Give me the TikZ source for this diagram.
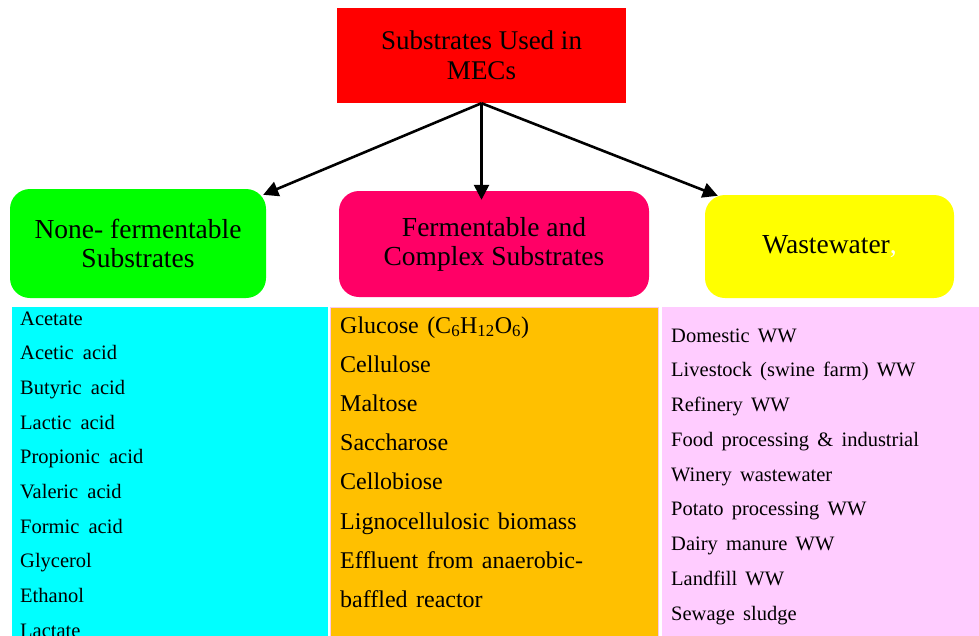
\documentclass[tikz,border=0pt]{standalone}
\usepackage{fontspec}
\setmainfont{Liberation Serif}
\newfontfamily\timesfont{Liberation Serif}
\usetikzlibrary{arrows.meta,calc}

\definecolor{headred}{HTML}{FF0000}
\definecolor{boxgreen}{HTML}{00FF00}
\definecolor{boxpink}{HTML}{FF0066}
\definecolor{boxyellow}{HTML}{FFFF00}
\definecolor{listcyan}{HTML}{00FFFF}
\definecolor{listorange}{HTML}{FFC000}
\definecolor{listpink}{HTML}{FFCCFF}
\definecolor{edgepink}{HTML}{F8C8F0}

\tikzset{
  headbox/.style={draw=none, fill=headred, align=center, inner sep=0pt,
    font=\timesfont\fontsize{27}{30}\selectfont},
  catbox/.style={draw=none, rounded corners=20pt, align=center, inner sep=0pt,
    font=\timesfont\fontsize{27.5}{29}\selectfont},
  panel/.style={draw=none, anchor=north west, inner sep=0pt},
  listitem/.style 2 args={anchor=base west, inner sep=0pt,
    font=\timesfont\fontsize{#1}{#1}\selectfont,
    execute at begin node={\spaceskip=#2em\relax}},
  cyanitem/.style={listitem={20.5}{0.45}},
  orangeitem/.style={listitem={24}{0.35}},
  pinkitem/.style={listitem={20.5}{0.4}},
  link/.style={line width=2.6pt, -{Triangle[length=15pt,width=15pt]}},
}

\begin{document}
\begin{tikzpicture}[x=1pt,y=-1pt]
\useasboundingbox (0,0) rectangle (979,635);
\clip (0,0) rectangle (979,635);

% title
\node[headbox, minimum width=289pt, minimum height=95pt] (top) at (481.5,55.5)
  {Substrates Used in\\MECs};

% three categories
\node[catbox, fill=boxgreen, minimum width=256pt, minimum height=109pt] (green) at (138,243.5)
  {None- fermentable\\Substrates};
\node[catbox, fill=boxpink, minimum width=310pt, minimum height=106pt] (pink) at (494,244)
  {Fermentable and\\Complex Substrates};
\node[catbox, fill=boxyellow, minimum width=249pt, minimum height=103pt] (yellow) at (829.5,246.5)
  {Wastewater\textcolor{white}{,}};

% connectors
\draw[link] (top.south) -- ($(green.north east)+(-3,6)$);
\draw[link] (top.south) -- ([yshift=-9pt]top.south |- pink.north);
\draw[link] (top.south) -- ($(yellow.north west)+(13,1)$);

% list panels
\node[panel, fill=listcyan, minimum width=316pt, minimum height=340pt] (p1) at (12,306.5) {};
\node[panel, fill=listorange, draw=edgepink, line width=1.5pt, minimum width=328pt, minimum height=340pt] (p2) at (329.5,306.5) {};
\node[panel, fill=listpink, minimum width=318pt, minimum height=340pt] (p3) at (662,306.5) {};

\foreach \t [count=\i] in {Acetate, Acetic acid, Butyric acid, Lactic acid,
    Propionic acid, Valeric acid, Formic acid, Glycerol, Ethanol, Lactate}
  \node[cyanitem] (a\i) at (20,{325+34.7*(\i-1)}) {\t};

\foreach \t [count=\i] in {{Glucose (C\textsubscript{6}H\textsubscript{12}O\textsubscript{6})},
    Cellulose, Maltose, Saccharose, Cellobiose, Lignocellulosic biomass,
    Effluent from anaerobic-, baffled reactor}
  \node[orangeitem] (b\i) at (340,{333+39.2*(\i-1)}) {\t};

\foreach \t [count=\i] in {Domestic WW, Livestock (swine farm) WW, Refinery WW,
    Food processing \& industrial, Winery wastewater, Potato processing WW,
    Dairy manure WW, Landfill WW, Sewage sludge}
  \node[pinkitem] (c\i) at (671,{342+34.75*(\i-1)}) {\t};
\end{tikzpicture}
\end{document}
